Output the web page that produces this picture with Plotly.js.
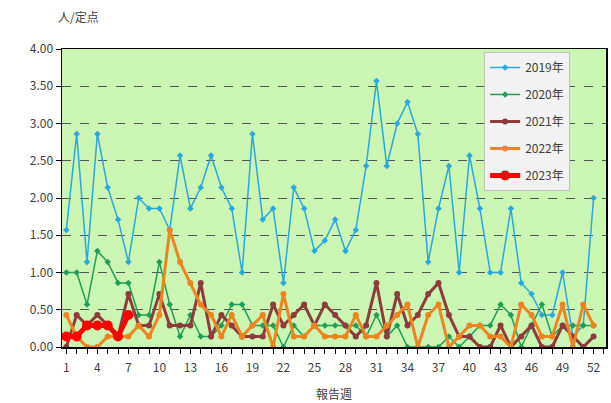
<!DOCTYPE html>
<html><head><meta charset="utf-8">
<script src="https://cdn.plot.ly/plotly-3.0.1.min.js"></script>
<style>html,body{margin:0;padding:0;background:#fff}#c{width:611px;height:403px}</style>
</head><body><div id="c"></div>
<script>
const weeks = Array.from({length:52},(_,i)=>i+1);
const y2019 = [1.57,2.86,1.14,2.86,2.14,1.71,1.14,2.00,1.86,1.86,1.57,2.57,1.86,2.14,2.57,2.14,1.86,1.00,2.86,1.71,1.86,0.86,2.14,1.86,1.29,1.43,1.71,1.29,1.57,2.43,3.57,2.43,3.00,3.29,2.86,1.14,1.86,2.43,1.00,2.57,1.86,1.00,1.00,1.86,0.86,0.71,0.43,0.43,1.00,0.14,0.29,2.00];
const y2020 = [1.00,1.00,0.57,1.29,1.14,0.86,0.86,0.43,0.43,1.14,0.57,0.14,0.43,0.14,0.14,0.29,0.57,0.57,0.29,0.29,0.29,0.00,0.29,0.14,0.29,0.29,0.29,0.29,0.29,0.14,0.43,0.14,0.29,0.00,0.00,0.00,0.00,0.14,0.00,0.14,0.29,0.29,0.57,0.43,0.00,0.29,0.57,0.14,0.29,0.29,0.29,0.29];
const y2021 = [0.00,0.43,0.29,0.43,0.29,0.14,0.71,0.29,0.29,0.71,0.29,0.29,0.29,0.86,0.14,0.43,0.29,0.14,0.14,0.14,0.57,0.29,0.43,0.57,0.29,0.57,0.43,0.29,0.14,0.29,0.86,0.14,0.71,0.29,0.43,0.71,0.86,0.43,0.14,0.14,0.00,0.00,0.29,0.00,0.14,0.29,0.00,0.00,0.29,0.14,0.00,0.14];
const y2022 = [0.43,0.14,0.00,0.00,0.14,0.14,0.14,0.29,0.14,0.43,1.57,1.14,0.86,0.57,0.43,0.14,0.43,0.14,0.29,0.43,0.00,0.71,0.14,0.14,0.29,0.14,0.14,0.14,0.43,0.14,0.14,0.29,0.43,0.57,0.00,0.43,0.57,0.00,0.14,0.29,0.29,0.14,0.14,0.00,0.57,0.43,0.14,0.14,0.57,0.00,0.57,0.29];
const y2023 = [0.14,0.14,0.29,0.29,0.29,0.14,0.43];
const names = ['2019年','2020年','2021年','2022年','2023年'];
const xTickVals = [1,4,7,10,13,16,19,22,25,28,31,34,37,40,43,46,49,52];

const series = [y2019,y2020,y2021,y2022,y2023];
const colors = ['#2aa7df','#1f9e55','#8e3b3b','#ee8420','#ff0000'];
const widths = [1.5,1.5,3,3,5];
const msizes = [5,5,6,6,10];
const symbols = ['diamond','diamond','circle','circle','circle'];

const data = series.map((ys,i)=>({
  x: weeks.slice(0, ys.length), y: ys, name: names[i], type:'scatter', mode:'lines+markers',
  line:{color:colors[i], width:widths[i]},
  marker:{color:colors[i], size:msizes[i], symbol:symbols[i]},
  legendgroup:'g'+i
}));

const font = 'Noto Sans CJK JP, Noto Sans, sans-serif';
const layout = {
  width:611, height:403,
  margin:{l:62,r:5,t:49,b:56},
  paper_bgcolor:'#ffffff', plot_bgcolor:'#cbf5b3',
  font:{family:font, size:12, color:'#404040'},
  showlegend:true,
  legend:{x:0.776, y:0.99, xanchor:'left', yanchor:'top', bgcolor:'#f2f2f2', bordercolor:'#c0c0c0', borderwidth:1,
          font:{family:font,size:12,color:'#404040'}, tracegroupgap:8, traceorder:'grouped', itemwidth:30},
  xaxis:{range:[0.58,53.2], tickmode:'array', tickvals:xTickVals, ticktext:xTickVals.map(String),
         ticks:'outside', ticklen:5, tickcolor:'#000', showgrid:false, zeroline:false,
         showline:true, linecolor:'#000', linewidth:1.5, mirror:true, ticklabelstandoff:4,
         minor:{dtick:1, tick0:1, ticks:'outside', ticklen:5, tickcolor:'#000', showgrid:false},
         tickfont:{family:font,size:12,color:'#404040'},
         title:{text:'報告週', font:{family:font,size:12,color:'#404040'}, standoff:16}},
  yaxis:{range:[0,4], dtick:0.5, tickformat:'.2f', ticks:'outside', ticklen:5, tickcolor:'#000',
         showgrid:true, gridcolor:'#555', griddash:'dash', gridwidth:1, zeroline:false,
         showline:true, linecolor:'#000', linewidth:1.5, mirror:true,
         tickfont:{family:font,size:12,color:'#404040'}},
  annotations:[{text:'人/定点', xref:'paper', yref:'paper', x:0.03, y:1.11, xanchor:'center', yanchor:'middle',
                showarrow:false, font:{family:font,size:12,color:'#404040'}}]
};
Plotly.newPlot('c', data, layout, {displayModeBar:false, staticPlot:true});
</script></body></html>
